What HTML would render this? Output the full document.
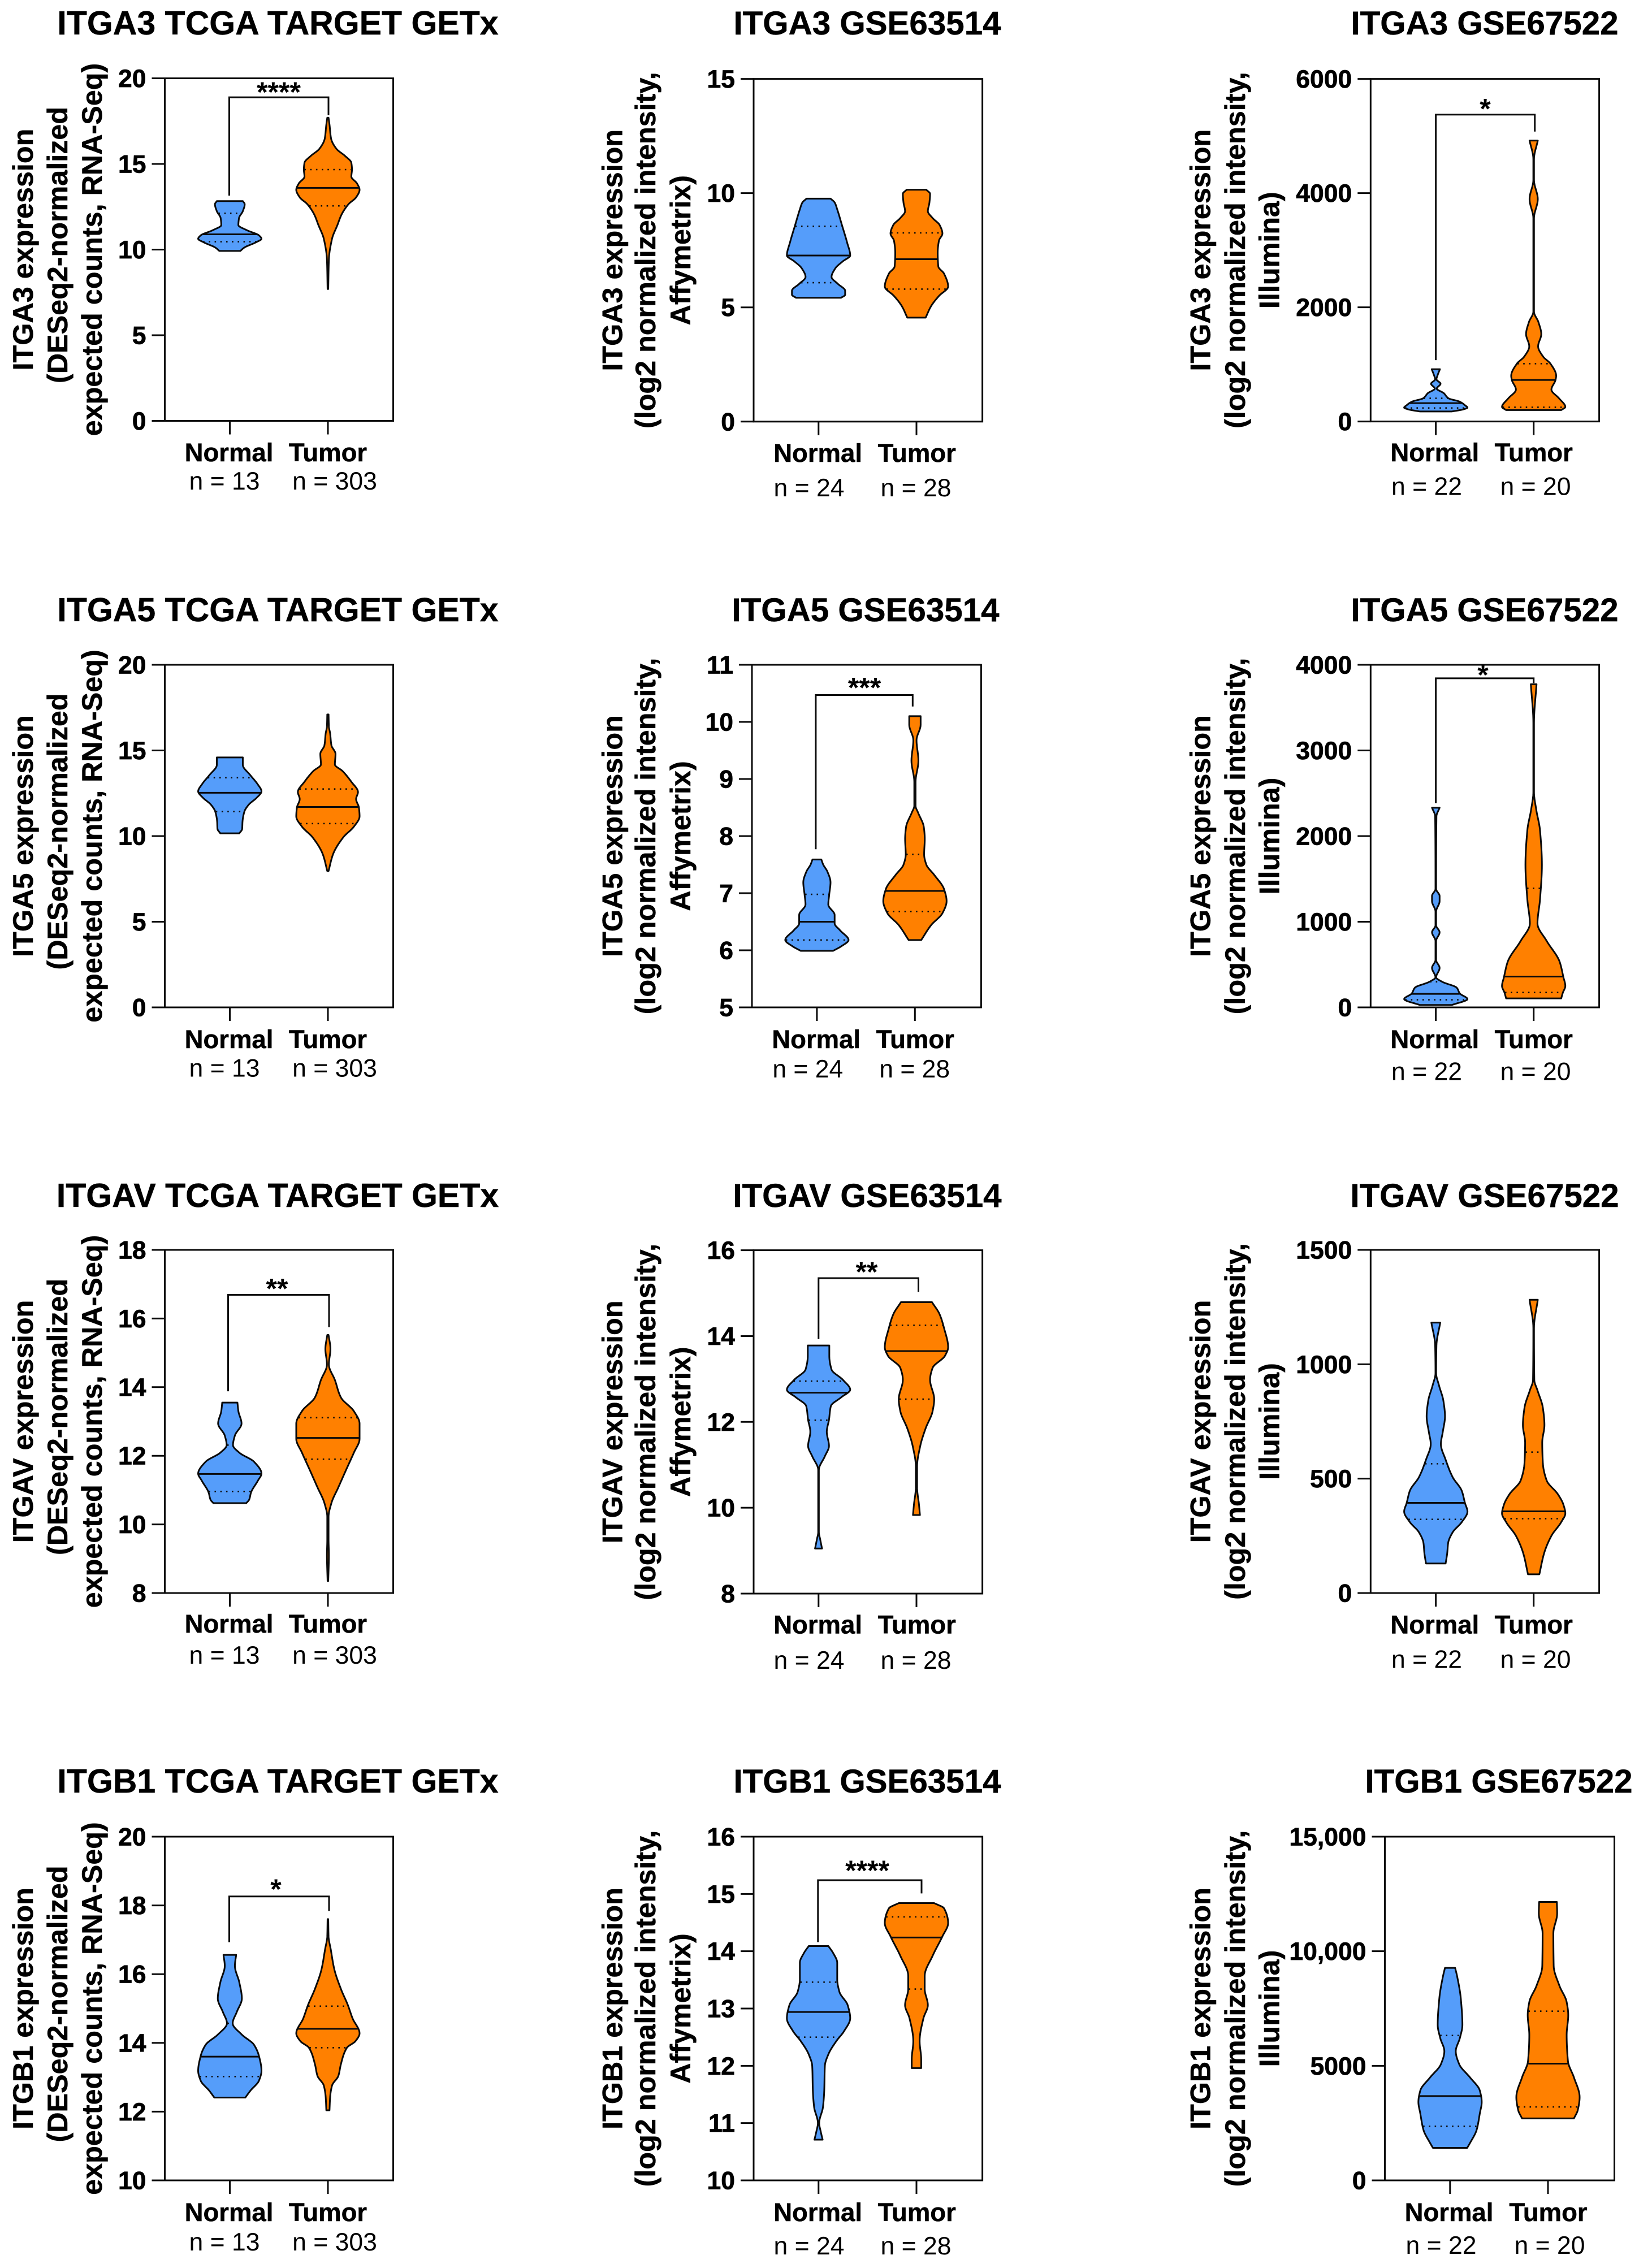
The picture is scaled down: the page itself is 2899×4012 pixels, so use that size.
<!DOCTYPE html>
<html lang="en">
<head>
<meta charset="utf-8">
<title>Integrin expression violin plots</title>
<style>
html,body{margin:0;padding:0;background:#fff;}
svg{display:block;}
text{font-family:"Liberation Sans",Arial,sans-serif;fill:#000;}
</style>
</head>
<body>
<svg id="figure" xmlns="http://www.w3.org/2000/svg" width="2899" height="4012" viewBox="0 0 2899 4012"></svg>
<script>
/* ---------- categories ---------- */
const CATEGORIES = ['Normal', 'Tumor'];
const N_TCGA = ['n = 13', 'n = 303'];
const N_63514 = ['n = 24', 'n = 28'];
const N_67522 = ['n = 22', 'n = 20'];

/* ---------- tick labels ---------- */
const T_A3_TCGA = ['0', '5', '10', '15', '20'];
const T_A3_63 = ['0', '5', '10', '15'];
const T_A3_67 = ['0', '2000', '4000', '6000'];
const T_A5_TCGA = ['0', '5', '10', '15', '20'];
const T_A5_63 = ['5', '6', '7', '8', '9', '10', '11'];
const T_A5_67 = ['0', '1000', '2000', '3000', '4000'];
const T_AV_TCGA = ['8', '10', '12', '14', '16', '18'];
const T_AV_63 = ['8', '10', '12', '14', '16'];
const T_AV_67 = ['0', '500', '1000', '1500'];
const T_B1_TCGA = ['10', '12', '14', '16', '18', '20'];
const T_B1_63 = ['10', '11', '12', '13', '14', '15', '16'];
const T_B1_67 = ['0', '5000', '10,000', '15,000'];

/* ---------- violin series: value, relative density, [q1, median, q3] ---------- */
const A3_TCGA_N_VAL = [12.83,12.65,12.24,11.84,11.43,11.13,10.83,10.63,10.42,10.12,9.92];
const A3_TCGA_N_DEN = [.41,.47,.41,.29,.27,.54,.92,1,.82,.46,.33];
const A3_TCGA_N_Q = [10.46,10.89,12.12];
const A3_TCGA_T_VAL = [17.7,17.3,16.48,15.88,15.47,15.07,14.67,14.26,13.86,13.49,13.05,12.65,12.04,11.43,10.63,9.41,7.7];
const A3_TCGA_T_DEN = [.02,.05,.1,.27,.54,.74,.76,.74,.92,1,.89,.65,.43,.3,.13,.03,.01];
const A3_TCGA_T_Q = [12.55,13.6,14.67];

const A3_63_N_VAL = [9.76,9.59,9.29,8.6,7.85,7.27,7.02,6.71,6.33,6.03,5.73,5.55,5.42];
const A3_63_N_DEN = [.38,.51,.59,.74,.9,1,.77,.53,.41,.61,.84,.84,.71];
const A3_63_N_Q = [6.08,7.27,8.55];
const A3_63_T_VAL = [10.15,9.97,9.59,9.21,8.91,8.61,8.23,7.92,7.39,6.79,6.48,5.91,5.5,5.05,4.55];
const A3_63_T_DEN = [.31,.43,.41,.36,.51,.73,.82,.71,.67,.69,.87,1,.71,.46,.29];
const A3_63_T_Q = [5.8,7.11,8.26];

const A3_67_N_VAL = [916,800,740,661,576,497,406,346,285,243,212,176];
const A3_67_N_DEN = [.13,.05,.02,.15,.03,.25,.4,.76,.92,1,.87,.51];
const A3_67_N_Q = [237,322,406];
const A3_67_T_VAL = [4920,4593,4229,3895,3561,1923,1741,1529,1317,1135,1013,801,728,558,406,255,200];
const A3_67_T_DEN = [.13,.01,.01,.13,.01,.01,.15,.24,.14,.3,.53,.71,.69,.56,.8,1,.87];
const A3_67_T_Q = [249,728,1013];

const A5_TCGA_N_VAL = [14.59,14.16,13.55,13.05,12.61,12.24,11.84,11.43,10.83,10.42,10.16];
const A5_TCGA_N_DEN = [.41,.41,.65,.87,1,.85,.6,.46,.4,.39,.3];
const A5_TCGA_N_Q = [11.43,12.53,13.41];
const A5_TCGA_T_VAL = [17.1,16.4,16,15.3,14.8,14.18,13.8,13.17,12.57,12.16,11.66,11.15,10.55,9.94,8.93,7.96];
const A5_TCGA_T_DEN = [.02,.03,.07,.11,.24,.22,.46,.74,.95,.89,.98,1,.82,.49,.16,.02];
const A5_TCGA_T_Q = [10.73,11.7,12.75];

const A5_63_N_VAL = [7.59,7.5,7.38,7.19,6.98,6.8,6.62,6.47,6.35,6.18,6.07,5.99];
const A5_63_N_DEN = [.14,.2,.33,.43,.39,.36,.56,.56,.73,1,.77,.51];
const A5_63_N_Q = [6.18,6.5,6.98];
const A5_63_T_VAL = [10.1,9.95,9.68,9.32,8.95,8.53,8.41,8.16,7.95,7.68,7.5,7.32,7.07,6.86,6.65,6.44,6.18];
const A5_63_T_DEN = [.18,.18,.05,.11,.02,.02,.1,.28,.31,.29,.36,.61,.92,1,.87,.51,.2];
const A5_63_T_Q = [6.68,7.04,7.68];

const A5_67_N_VAL = [2331,2230,1382,1301,1240,1119,957,877,776,553,461,351,299,230,162,97,28];
const A5_67_N_DEN = [.12,.02,.01,.12,.12,.01,.01,.12,.01,.01,.12,.01,.2,.66,.76,1,.51];
const A5_67_N_Q = [89,158,299];
const A5_67_T_VAL = [3773,3321,2513,2311,2068,1664,1260,978,776,533,351,250,170,105];
const A5_67_T_DEN = [.09,.01,.01,.08,.2,.26,.2,.12,.41,.82,.94,1,.92,.87];
const A5_67_T_Q = [174,360,1390];

const AV_TCGA_N_VAL = [13.55,13.3,12.94,12.59,12.31,12.09,11.83,11.48,11.28,10.93,10.72,10.62];
const AV_TCGA_N_DEN = [.24,.27,.37,.16,.1,.3,.76,1,.89,.67,.61,.52];
const AV_TCGA_N_Q = [10.96,11.47,12.31];
const AV_TCGA_T_VAL = [15.52,15.11,14.66,14.21,13.7,13.3,12.94,12.49,12.09,11.58,11.08,10.62,10.22,9.56,9.11,8.35];
const AV_TCGA_T_DEN = [.02,.08,.03,.22,.41,.82,1,1,.82,.57,.33,.11,.02,.02,.03,.01];
const AV_TCGA_T_Q = [11.9,12.52,13.11];

const AV_63_N_VAL = [13.78,13.54,13.22,12.98,12.75,12.57,12.37,12.05,11.77,11.44,11.2,10.88,9.43,9.27,9.05];
const AV_63_N_DEN = [.34,.34,.41,.77,1,.71,.39,.33,.26,.33,.2,.01,.01,.05,.11];
const AV_63_N_Q = [12.04,12.68,12.95];
const AV_63_T_VAL = [14.79,14.51,14.19,13.74,13.54,13.26,12.98,12.53,12.25,11.85,11.44,10.96,10.48,10.07,9.83];
const AV_63_T_DEN = [.49,.73,.87,1,.9,.51,.43,.56,.51,.29,.12,.02,.02,.08,.11];
const AV_63_T_Q = [12.53,13.65,14.25];

const AV_67_N_VAL = [1182,1082,961,908,840,772,704,651,583,507,447,394,356,310,265,219,174,129];
const AV_67_N_DEN = [.14,.02,.01,.1,.24,.29,.22,.16,.31,.53,.82,.92,1,.82,.53,.39,.36,.31];
const AV_67_N_Q = [322,394,565];
const AV_67_T_VAL = [1282,1158,931,886,810,734,658,568,492,431,386,348,310,250,174,82];
const AV_67_T_DEN = [.13,.01,.02,.12,.29,.34,.27,.29,.41,.77,.94,1,.87,.56,.33,.18];
const AV_67_T_Q = [325,357,616];

const B1_TCGA_N_VAL = [16.56,16.24,15.76,15.29,14.9,14.57,14.24,13.95,13.62,13.19,12.9,12.61,12.41];
const B1_TCGA_N_DEN = [.2,.16,.3,.38,.22,.09,.38,.76,.92,1,.92,.65,.49];
const B1_TCGA_N_Q = [13.02,13.6,14.57];
const B1_TCGA_T_VAL = [17.6,17.1,16.72,16.15,15.57,15.1,14.71,14.28,14.05,13.86,13.38,13.04,12.76,12.42,12.04];
const B1_TCGA_T_DEN = [.01,.02,.09,.2,.41,.63,.78,1,.87,.6,.41,.33,.13,.07,.05];
const B1_TCGA_T_Q = [13.86,14.41,15.07];

const B1_63_N_VAL = [14.09,13.97,13.8,13.51,13.29,13.06,12.83,12.6,12.43,12.2,12,11.57,11.28,11,10.85,10.71];
const B1_63_N_DEN = [.31,.46,.59,.59,.66,.92,1,.8,.56,.31,.2,.18,.14,.02,.07,.13];
const B1_63_N_Q = [12.5,12.94,13.46];
const B1_63_T_VAL = [14.84,14.75,14.49,14.26,13.92,13.57,13.34,13.06,12.83,12.43,12.11,11.96];
const B1_63_T_DEN = [.56,.87,1,.82,.51,.26,.26,.36,.22,.1,.15,.15];
const B1_63_T_Q = [13.34,14.24,14.6];

const B1_67_N_VAL = [9273,8929,7928,6783,6211,5638,5066,4493,3921,3420,2919,2204,1631,1417];
const B1_67_N_DEN = [.16,.22,.34,.39,.31,.18,.29,.63,.94,1,.94,.84,.63,.54];
const B1_67_N_Q = [2361,3678,6325];
const B1_67_T_VAL = [12149,11648,10790,9359,8500,7785,7212,6354,5209,4493,3635,3062,2705];
const B1_67_T_DEN = [.28,.29,.17,.18,.36,.59,.64,.59,.63,.82,1,.94,.82];
const B1_67_T_Q = [3205,5094,7384];

/* ---------- significance brackets: [bar level, left end, right end] ---------- */
const SIG_A3_TCGA = [18.89,13.15,17.86];
const SIG_A3_67 = [5375,1074,5078];
const SIG_A5_63 = [10.47,7.77,10.27];
const SIG_A5_67 = [3842,2384,3786];
const SIG_AV_TCGA = [16.69,13.88,15.75];
const SIG_AV_63 = [15.35,13.93,15.03];
const SIG_B1_TCGA = [18.26,16.93,17.84];
const SIG_B1_63 = [15.24,14.16,15.01];

/* ---------- y-axis title lines ---------- */
const YT_TCGA = ['expression', '(DESeq2-normalized', 'expected counts, RNA-Seq)'];
const YT_63 = ['expression', '(log2 normalized intensity,', 'Affymetrix)'];
const YT_67 = ['expression', '(log2 normalized intensity,', 'Illumina)'];

/* ---------- panel layout (geometry lives here, not in the data arrays) ---------- */
const C1 = {l:291.5, r:695.5, c:[406.5,580], catX:[405,580], nX:[397,592], ytX:[58,119,180], ytShift:[0,-8,0], yt:YT_TCGA, ns:N_TCGA, titleSize:59};
const C2 = {l:1333, r:1737.6, c:[1447.8,1621], catX:[1446.6,1621.7], nX:[1431,1620], ytX:[1100.5,1159,1221], ytShift:[0,0,0], yt:YT_63, ns:N_63514, titleSize:58.3};
const C2B = {l:1330, r:1735.4, c:[1444.9,1618.3], catX:[1443.7,1618.8], nX:[1428.8,1617.7], ytX:[1100.5,1159,1221], ytShift:[0,0,0], yt:YT_63, ns:N_63514, titleSize:58.3};
const C3 = {l:2424.3, r:2828.6, c:[2539.6,2712.7], catX:[2537.8,2712.7], nX:[2523.5,2716], ytX:[2140.5,2202,2262.6], ytShift:[0,0,0], yt:YT_67, ns:N_67522, titleSize:58.3};
const C3B = {l:2449.5, r:2855.5, c:[2564.8,2738], catX:[2563,2738.5], nX:[2549,2741], ytX:[2140.5,2202,2262.6], ytShift:[0,0,0], yt:YT_67, ns:N_67522, titleSize:58.3};

const panels = [
 {id:'itga3-tcga', gene:'ITGA3', title:'ITGA3 TCGA TARGET GETx', col:C1, top:138.5, bot:744.5, tx:491.5, ty:61, catY:816, nY:866, ticks:T_A3_TCGA,
  n:[A3_TCGA_N_VAL,A3_TCGA_N_DEN,A3_TCGA_N_Q], t:[A3_TCGA_T_VAL,A3_TCGA_T_DEN,A3_TCGA_T_Q], sig:SIG_A3_TCGA, stars:'****', starX:493, starDy:-14, dL:-1, dR:1},
 {id:'itga3-gse63514', gene:'ITGA3', title:'ITGA3 GSE63514', col:C2, top:139.6, bot:745.8, tx:1534, ty:61, catY:817, nY:878, ticks:T_A3_63,
  n:[A3_63_N_VAL,A3_63_N_DEN,A3_63_N_Q], t:[A3_63_T_VAL,A3_63_T_DEN,A3_63_T_Q]},
 {id:'itga3-gse67522', gene:'ITGA3', title:'ITGA3 GSE67522', col:C3, top:139.6, bot:745.6, tx:2626, ty:61, catY:816, nY:875.6, ticks:T_A3_67,
  n:[A3_67_N_VAL,A3_67_N_DEN,A3_67_N_Q], t:[A3_67_T_VAL,A3_67_T_DEN,A3_67_T_Q], sig:SIG_A3_67, stars:'*', starX:2627, starDy:-15, dL:0, dR:2},

 {id:'itga5-tcga', gene:'ITGA5', title:'ITGA5 TCGA TARGET GETx', col:C1, top:1176, bot:1782, tx:491.5, ty:1099, catY:1854, nY:1904.6, ticks:T_A5_TCGA,
  n:[A5_TCGA_N_VAL,A5_TCGA_N_DEN,A5_TCGA_N_Q], t:[A5_TCGA_T_VAL,A5_TCGA_T_DEN,A5_TCGA_T_Q]},
 {id:'itga5-gse63514', gene:'ITGA5', title:'ITGA5 GSE63514', col:C2B, top:1176, bot:1782, tx:1531, ty:1099, catY:1854, nY:1906, ticks:T_A5_63,
  n:[A5_63_N_VAL,A5_63_N_DEN,A5_63_N_Q], t:[A5_63_T_VAL,A5_63_T_DEN,A5_63_T_Q], sig:SIG_A5_63, stars:'***', starX:1529, starDy:-18, dL:-2, dR:-4},
 {id:'itga5-gse67522', gene:'ITGA5', title:'ITGA5 GSE67522', col:C3, top:1176, bot:1782, tx:2626, ty:1099, catY:1854, nY:1910.7, ticks:T_A5_67,
  n:[A5_67_N_VAL,A5_67_N_DEN,A5_67_N_Q], t:[A5_67_T_VAL,A5_67_T_DEN,A5_67_T_Q], sig:SIG_A5_67, stars:'*', starX:2623, starDy:-11, dL:0, dR:0},

 {id:'itgav-tcga', gene:'ITGAV', title:'ITGAV TCGA TARGET GETx', col:C1, top:2211, bot:2818, tx:491, ty:2135, catY:2888, nY:2943, ticks:T_AV_TCGA,
  n:[AV_TCGA_N_VAL,AV_TCGA_N_DEN,AV_TCGA_N_Q], t:[AV_TCGA_T_VAL,AV_TCGA_T_DEN,AV_TCGA_T_Q], sig:SIG_AV_TCGA, stars:'**', starX:490, starDy:-16, dL:-3, dR:2},
 {id:'itgav-gse63514', gene:'ITGAV', title:'ITGAV GSE63514', col:C2, top:2211.6, bot:2819, tx:1534, ty:2135, catY:2889.5, nY:2952, ticks:T_AV_63,
  n:[AV_63_N_VAL,AV_63_N_DEN,AV_63_N_Q], t:[AV_63_T_VAL,AV_63_T_DEN,AV_63_T_Q], sig:SIG_AV_63, stars:'**', starX:1533, starDy:-16, dL:0, dR:3.5},
 {id:'itgav-gse67522', gene:'ITGAV', title:'ITGAV GSE67522', col:C3, top:2211, bot:2818, tx:2626, ty:2135, catY:2889.5, nY:2950.7, ticks:T_AV_67,
  n:[AV_67_N_VAL,AV_67_N_DEN,AV_67_N_Q], t:[AV_67_T_VAL,AV_67_T_DEN,AV_67_T_Q]},

 {id:'itgb1-tcga', gene:'ITGB1', title:'ITGB1 TCGA TARGET GETx', col:C1, top:3249, bot:3857, tx:491.5, ty:3171, catY:3929, nY:3981, ticks:T_B1_TCGA,
  n:[B1_TCGA_N_VAL,B1_TCGA_N_DEN,B1_TCGA_N_Q], t:[B1_TCGA_T_VAL,B1_TCGA_T_DEN,B1_TCGA_T_Q], sig:SIG_B1_TCGA, stars:'*', starX:488, starDy:-18, dL:-1, dR:2},
 {id:'itgb1-gse63514', gene:'ITGB1', title:'ITGB1 GSE63514', col:C2, top:3249, bot:3857, tx:1534, ty:3171, catY:3929, nY:3988, ticks:T_B1_63,
  n:[B1_63_N_VAL,B1_63_N_DEN,B1_63_N_Q], t:[B1_63_T_VAL,B1_63_T_DEN,B1_63_T_Q], sig:SIG_B1_63, stars:'****', starX:1534, starDy:-22, dL:-1, dR:9},
 {id:'itgb1-gse67522', gene:'ITGB1', title:'ITGB1 GSE67522', col:C3B, top:3249, bot:3857, tx:2651, ty:3171, catY:3929, nY:3987, ticks:T_B1_67,
  n:[B1_67_N_VAL,B1_67_N_DEN,B1_67_N_Q], t:[B1_67_T_VAL,B1_67_T_DEN,B1_67_T_Q]}
];

const BLUE = '#559dfa';
const ORANGE = '#ff8000';
const INK = '#0a0a0a';
const MAX_HALF_WIDTH = 56;
const LW = 3;
const root = document.getElementById('figure');

function make(tag, attrs, parent) {
  const e = document.createElementNS('http://www.w3.org/2000/svg', tag);
  for (const k in attrs) e.setAttribute(k, attrs[k]);
  parent.appendChild(e);
  return e;
}

/* Monotone cubic resampling of the density profile, so the outline stays smooth without overshoot. */
function profile(vals, dens) {
  const n = vals.length, h = [], s = [], m = new Array(n).fill(0), out = [];
  for (let i = 0; i < n - 1; i++) { h[i] = vals[i + 1] - vals[i]; s[i] = (dens[i + 1] - dens[i]) / h[i]; }
  for (let i = 1; i < n - 1; i++) {
    if (s[i - 1] * s[i] > 0) {
      const w1 = 2 * h[i] + h[i - 1], w2 = h[i] + 2 * h[i - 1];
      m[i] = (w1 + w2) / (w1 / s[i - 1] + w2 / s[i]);
    }
  }
  m[0] = n > 1 ? s[0] : 0;
  m[n - 1] = n > 1 ? s[n - 2] : 0;
  for (let i = 0; i < n - 1; i++) {
    const steps = 10;
    for (let j = 0; j < steps; j++) {
      const t = j / steps, t2 = t * t, t3 = t2 * t;
      const d = (2 * t3 - 3 * t2 + 1) * dens[i] + (t3 - 2 * t2 + t) * h[i] * m[i] + (-2 * t3 + 3 * t2) * dens[i + 1] + (t3 - t2) * h[i] * m[i + 1];
      out.push([vals[i] + t * h[i], Math.max(d, 0.006)]);
    }
  }
  out.push([vals[n - 1], Math.max(dens[n - 1], 0.006)]);
  return out;
}

function densityAt(pts, v) {
  for (let i = 0; i < pts.length - 1; i++) {
    const a = pts[i], b = pts[i + 1];
    if (v <= a[0] && v >= b[0]) {
      const f = a[0] === b[0] ? 0 : (a[0] - v) / (a[0] - b[0]);
      return a[1] + f * (b[1] - a[1]);
    }
  }
  return 0;
}

function drawViolin(g, series, cx, yScale, fill, label, pid) {
  const pts = profile(series[0], series[1]);
  let left = '', right = '';
  pts.forEach((p, i) => {
    left += (i ? 'L' : 'M') + (cx - p[1] * MAX_HALF_WIDTH).toFixed(2) + ' ' + yScale(p[0]).toFixed(2);
  });
  for (let i = pts.length - 1; i >= 0; i--) {
    right += 'L' + (cx + pts[i][1] * MAX_HALF_WIDTH).toFixed(2) + ' ' + yScale(pts[i][0]).toFixed(2);
  }
  const body = make('path', {d: left + right + 'Z', fill: fill, stroke: INK, 'stroke-width': LW, 'stroke-linejoin': 'round'}, g);
  
  

  const q = series[2];
  const names = ['q1', 'median', 'q3'];
  q.forEach((v, i) => {
    const hw = densityAt(pts, v) * MAX_HALF_WIDTH - 1;
    const attrs = {x1: cx - hw, x2: cx + hw, y1: yScale(v), y2: yScale(v), stroke: INK};
    if (i === 1) {
      attrs['stroke-width'] = LW;
    } else {
      attrs['stroke-width'] = 2.6;
      attrs['stroke-dasharray'] = '2.6 7.6';
    }
    const line = make('line', attrs, g);
    
    
  });
}

panels.forEach(p => {
  const c = p.col;
  const tickVals = p.ticks.map(t => Number(t.replace(',', '')));
  const dMin = tickVals[0], dMax = tickVals[tickVals.length - 1];
  const yScale = v => p.bot - (v - dMin) / (dMax - dMin) * (p.bot - p.top);

  const g = make('g', {}, root);
  
  

  const title = make('text', {x: p.tx, y: p.ty, 'text-anchor': 'middle', 'font-size': c.titleSize, 'font-weight': 700, stroke: '#000', 'stroke-width': 0.5}, g);
  title.textContent = p.title;
  
  

  const midY = (p.top + p.bot) / 2;
  c.yt.forEach((txt, i) => {
    const content = i === 0 ? p.gene + ' ' + txt : txt;
    const yy = midY + c.ytShift[i];
    const yl = make('text', {x: c.ytX[i], y: yy, 'text-anchor': 'middle', 'font-size': 50.3, 'font-weight': 700, stroke: '#000', 'stroke-width': 0.5, transform: 'rotate(-90 ' + c.ytX[i] + ' ' + yy + ')'}, g);
    yl.textContent = content;
    
    
  });

  const frame = make('rect', {x: c.l, y: p.top, width: c.r - c.l, height: p.bot - p.top, fill: 'none', stroke: INK, 'stroke-width': LW}, g);
  
  

  p.ticks.forEach((lab, i) => {
    const y = yScale(tickVals[i]);
    const tk = make('line', {x1: c.l - 23, x2: c.l, y1: y, y2: y, stroke: INK, 'stroke-width': LW}, g);
    
    
    const tl = make('text', {x: c.l - 33, y: y + 15.5, 'text-anchor': 'end', 'font-size': 44.5, 'font-weight': 700, stroke: '#000', 'stroke-width': 0.7}, g);
    tl.textContent = lab;
    
    
  });

  CATEGORIES.forEach((cat, i) => {
    const tk = make('line', {x1: c.c[i], x2: c.c[i], y1: p.bot, y2: p.bot + 24, stroke: INK, 'stroke-width': LW}, g);
    
    
    const cl = make('text', {x: c.catX[i], y: p.catY, 'text-anchor': 'middle', 'font-size': 45.5, 'font-weight': 700, stroke: '#000', 'stroke-width': 0.5}, g);
    cl.textContent = cat;
    
    
    const nl = make('text', {x: c.nX[i], y: p.nY, 'text-anchor': 'middle', 'font-size': 44.5}, g);
    nl.textContent = c.ns[i];
    
    
  });

  drawViolin(g, p.n, c.c[0], yScale, BLUE, 'normal', p.id);
  drawViolin(g, p.t, c.c[1], yScale, ORANGE, 'tumor', p.id);

  if (p.sig) {
    const d = 'M' + (c.c[0] + p.dL) + ' ' + yScale(p.sig[1]) + 'V' + yScale(p.sig[0]) + 'H' + (c.c[1] + p.dR) + 'V' + yScale(p.sig[2]);
    const br = make('path', {d: d, fill: 'none', stroke: INK, 'stroke-width': LW}, g);
    
    
    const st = make('text', {x: p.starX, y: yScale(p.sig[0]) + p.starDy + 22, 'text-anchor': 'middle', 'font-size': 50, 'font-weight': 700}, g);
    st.textContent = p.stars;
    
    
  }
});
</script>
</body>
</html>
